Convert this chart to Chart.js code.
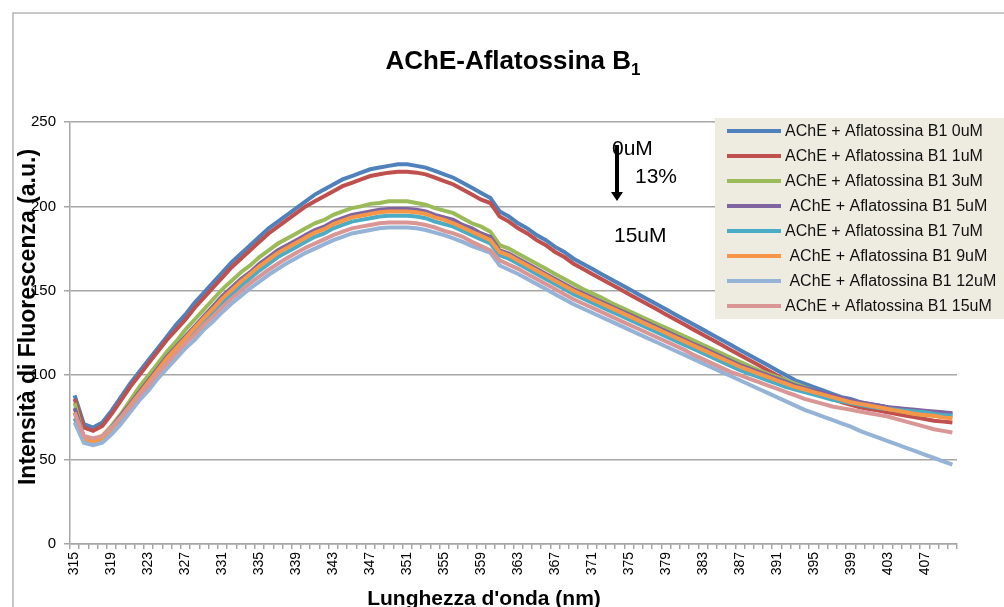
<!DOCTYPE html>
<html>
<head>
<meta charset="utf-8">
<script src="https://cdn.jsdelivr.net/npm/chart.js@4/dist/chart.umd.min.js"></script>
<style>
  html, body { margin: 0; padding: 0; background: #fff; }
  #wrap { position: relative; width: 1004px; height: 607px; overflow: hidden; }
</style>
</head>
<body>
<div id="wrap"><canvas id="acheChart" width="1004" height="607"></canvas></div>
<script>
// lunghezze d'onda (nm)
const wavelengths = [315,316,317,318,319,320,321,322,323,324,325,326,327,328,329,330,331,332,333,334,
  335,336,337,338,339,340,341,342,343,344,345,346,347,348,349,350,351,352,353,354,
  355,356,357,358,359,360,361,362,363,364,365,366,367,368,369,370,371,372,373,374,
  375,376,377,378,379,380,381,382,383,384,385,386,387,388,389,390,391,392,393,394,
  395,396,397,398,399,400,401,402,403,404,405,406,407,408,409,410];

// intensità di fluorescenza (a.u.)
const ache0 = [88,71,69,72,79,87,95,102,109,116,123,130,136,143,149,155,161,167,172,177,
  182,187,191,195,199,203,207,210,213,216,218,220,222,223,224,225,225,224,223,221,
  219,217,214,211,208,205,197,194,190,187,183,180,176,173,169,166,163,160,157,154,
  151,148,145,142,139,136,133,130,127,124,121,118,115,112,109,106,103,100,97,95,
  93,91,89,87,86,84,83,82,81,80,79.5,79,78.5,78,77.5,77];
const ache1 = [86,69,67,70,77,85,93,100,107,114,121,127,133,140,146,152,158,164,169,174,
  179,184,188,192,196,200,203,206,209,212,214,216,218,219,220,220.5,220.5,220,219,217,
  215,213,210,207,204,202,194,191,187,184,180,177,173,170,166,163,160,157,154,151,
  148,145,142,139,136,133,130,127,124,121,118,115,112,109,106,103,100,97,94,92,
  90,88,86,84,82.5,81,80,79,78,77,76,75,74,73,72.5,72];
const ache3 = [83.5,63,61,64,70,77,85,93,100,107,114,120,127,133,139,145,151,156,161,165,
  170,174,178,181,184,187,190,192,195,197,199,200,201.5,202,203,203,203,202,201,199,
  197.5,196,193,190,188,185,177,175,172,169,166,163,160,157,154,151,148.5,146,143,140.5,
  138,135.5,133,130.5,128,125.5,123,120.5,118,115.5,113,110.5,108,105.5,103,101,99,97,95,93,
  91,89,87.5,86,84.5,83,82,81,80,79,78,77,76.5,76,75.5,75];
const ache5 = [80.5,63,61,63,69,76,83,90,97,104,111,117,123,129,135,141,147,152,157,161,
  166,170,174,177,180,183,186,188,191,193,195,196,197,198,198.5,198.5,198.5,198,197,195,
  193.5,192,189,187,184,182,174,172,169,166,163,160,157,154,151,148.5,146,143.5,141,138.5,
  136,133.5,131,128.5,126,123.5,121,118.5,116,113.5,111,108.5,106,104,102,100,98,96,94,92.5,
  91,89.5,88,86.5,85,84,83,82,81,80.5,80,79.5,79,78.5,78,77.5];
const ache7 = [74.5,61,59.5,61,67,74,81,88,95,102,108,114,120,126,132,137.5,143,148,153,157.5,
  162,166,170,173,176,179,182,184,187,189,191,192,193,194,194.5,194.5,194.5,194,193,191,
  189.5,188,185.5,183,180.5,178,171,169,166,163,160,157,154,151,148,145.5,143,140.5,138,135.5,
  133,130.5,128,125.5,123,120.5,118,115.5,113,110.5,108,105.5,103,101,99,97,95,93,91.5,90,
  88.5,87,85.5,84.5,83.5,82.5,81.5,80.5,80,79.5,79,78.5,78,77,76.5,76];
const ache9 = [78,62,60.5,62,68,75,82,89,96,103,110,116,122,128,134,139.5,145.5,150.5,155.5,160,
  164.5,168.5,172.5,175.5,178.5,181.5,184.5,186.5,189.5,191.5,193.5,194.5,195.5,196.5,197,197,197,196.5,195.5,193.5,
  192,190,187.5,185,182.5,180,173,171,168,165,162,159,156,153,150,147.5,145,142.5,140,137.5,
  135,132.5,130,127.5,125,122.5,120,117.5,115,112.5,110,107.5,105,103,101,99,97,95,93,91.5,
  90,88.5,87,85.5,84,83,82,81,80,79,78,77,76.5,76,75,74.5];
const ache12 = [72,60,58.5,60,65,71,78,85,91,98,104,110,116,121,127,132,137.5,142.5,147,151.5,
  155.5,159.5,163,166.5,169.5,172.5,175,177.5,180,182,184,185,186,187,187.5,187.5,187.5,187,186,184.5,
  183,181,179,176.5,174.5,172.5,165,162.5,160,157,154,151,148,145,142,139.5,137,134.5,132,129.5,
  127,124.5,122,119.5,117,114.5,112,109.5,107,104.5,102,99.5,97,94.5,92,89.5,87,84.5,82,79.5,
  77.5,75.5,73.5,71.5,69.5,67,65,63,61,59,57,55,53,51,49,47];
const ache15 = [77.5,64,62.5,64,69,75,81,88,94,101,107,113,119,124,130,135,140.5,145.5,150,154.5,
  158.5,162.5,166,169.5,172.5,175.5,178,180.5,183,185,187,188,189,190,190.5,190.5,190.5,190,189,187.5,
  185.5,184,182,179,176.5,174,168,165.5,163,160,157,154,151,148,145,142.5,140,137.5,135,132.5,
  130,127.5,125,122.5,120,117.5,115,112,109.5,107,104.5,102,100,98,96,94,92,90,88,86,
  84.5,83,81.5,80.5,79.5,78.5,77.5,76.5,75.5,74,72.5,71,69.5,68,67,66];

const seriesLabels = ['AChE + Aflatossina B1 0uM', 'AChE + Aflatossina B1 1uM', 'AChE + Aflatossina B1 3uM',
  ' AChE + Aflatossina B1 5uM', 'AChE + Aflatossina B1 7uM', ' AChE + Aflatossina B1 9uM',
  ' AChE + Aflatossina B1 12uM', 'AChE + Aflatossina B1 15uM'];
const seriesData = [ache0, ache1, ache3, ache5, ache7, ache9, ache12, ache15];
const seriesColors = ['#4f81bd', '#c0504d', '#9bbb59', '#8064a2', '#4bacc6', '#f79646', '#95b3d7', '#d99694'];

const FONT = 'Liberation Sans, Arial, sans-serif';

// titolo, legenda, annotazioni, cornice
const decor = {
  id: 'decor',
  afterDraw(chart) {
    const ctx = chart.ctx;
    ctx.save();

    // cornice esterna
    ctx.strokeStyle = '#b5b5b5';
    ctx.lineWidth = 1.5;
    ctx.strokeRect(13, 13, 1100, 700);

    // titolo con pedice
    ctx.fillStyle = '#000';
    ctx.textBaseline = 'alphabetic';
    ctx.font = 'bold 26px ' + FONT;
    const main = 'AChE-Aflatossina B';
    const wMain = ctx.measureText(main).width;
    ctx.font = 'bold 17px ' + FONT;
    const wSub = ctx.measureText('1').width;
    const x0 = 513 - (wMain + wSub) / 2;
    ctx.font = 'bold 26px ' + FONT;
    ctx.textAlign = 'left';
    ctx.fillText(main, x0, 69);
    ctx.font = 'bold 17px ' + FONT;
    ctx.fillText('1', x0 + wMain, 75);

    // titoli degli assi
    ctx.font = 'bold 21px ' + FONT;
    ctx.textAlign = 'center';
    ctx.fillText("Lunghezza d'onda (nm)", 484, 605);
    ctx.save();
    ctx.translate(29, 317);
    ctx.rotate(-Math.PI / 2);
    ctx.textBaseline = 'middle';
    ctx.font = 'bold 23px ' + FONT;
    ctx.fillText('Intensità di Fluorescenza (a.u.)', 0, 0);
    ctx.restore();

    // legenda
    ctx.fillStyle = '#eeece1';
    ctx.fillRect(715, 118, 300, 201);
    ctx.font = '16px ' + FONT;
    ctx.textAlign = 'left';
    ctx.textBaseline = 'middle';
    seriesLabels.forEach((lab, i) => {
      const y = 131 + i * 25;
      ctx.strokeStyle = seriesColors[i];
      ctx.lineWidth = 4;
      ctx.beginPath();
      ctx.moveTo(727, y);
      ctx.lineTo(781, y);
      ctx.stroke();
      ctx.fillStyle = '#111';
      ctx.fillText(lab, 785, y + 1);
    });

    // annotazione freccia
    ctx.fillStyle = '#000';
    ctx.font = '21px ' + FONT;
    ctx.textBaseline = 'alphabetic';
    ctx.fillText('0uM', 612, 155);
    ctx.fillText('13%', 635, 183);
    ctx.fillText('15uM', 614, 242);
    ctx.fillRect(615, 145, 4, 48);
    ctx.beginPath();
    ctx.moveTo(611, 192);
    ctx.lineTo(623, 192);
    ctx.lineTo(617, 201);
    ctx.closePath();
    ctx.fill();

    ctx.restore();
  }
};

const ctxAche = document.getElementById('acheChart');
new Chart(ctxAche, {
  type: 'line',
  data: {
    labels: wavelengths,
    datasets: seriesData.map((d, i) => ({
      label: seriesLabels[i].trim(),
      data: d,
      borderColor: seriesColors[i],
      backgroundColor: seriesColors[i],
      borderWidth: 4,
      pointRadius: 0,
      tension: 0,
      order: seriesData.length - i
    }))
  },
  options: {
    responsive: false,
    animation: false,
    layout: { padding: { left: 10, top: 122, right: 47, bottom: 0 } },
    plugins: {
      legend: { display: false },
      title: { display: false },
      tooltip: { enabled: false }
    },
    scales: {
      x: {
        type: 'category',
        offset: true,
        ticks: {
          autoSkip: false,
          minRotation: 90,
          maxRotation: 90,
          padding: 3,
          color: '#000',
          font: { family: FONT, size: 14 },
          callback: (v, i) => ((wavelengths[i] - 315) % 4 === 0 ? String(wavelengths[i]) : '')
        },
        grid: { offset: true, drawOnChartArea: false, drawTicks: true, tickLength: 5, color: '#a6a6a6', lineWidth: 1.5 },
        border: { color: '#a6a6a6', width: 1.5 },
        afterFit: (s) => { s.height = 63; }
      },
      y: {
        min: 0,
        max: 250,
        ticks: { stepSize: 50, padding: 8, color: '#000', font: { family: FONT, size: 15 } },
        grid: { color: '#a6a6a6', lineWidth: 1.5, tickLength: 6 },
        border: { color: '#a6a6a6', width: 1.5 },
        afterFit: (s) => { s.width = 60; }
      }
    }
  },
  plugins: [decor]
});
</script>
</body>
</html>
